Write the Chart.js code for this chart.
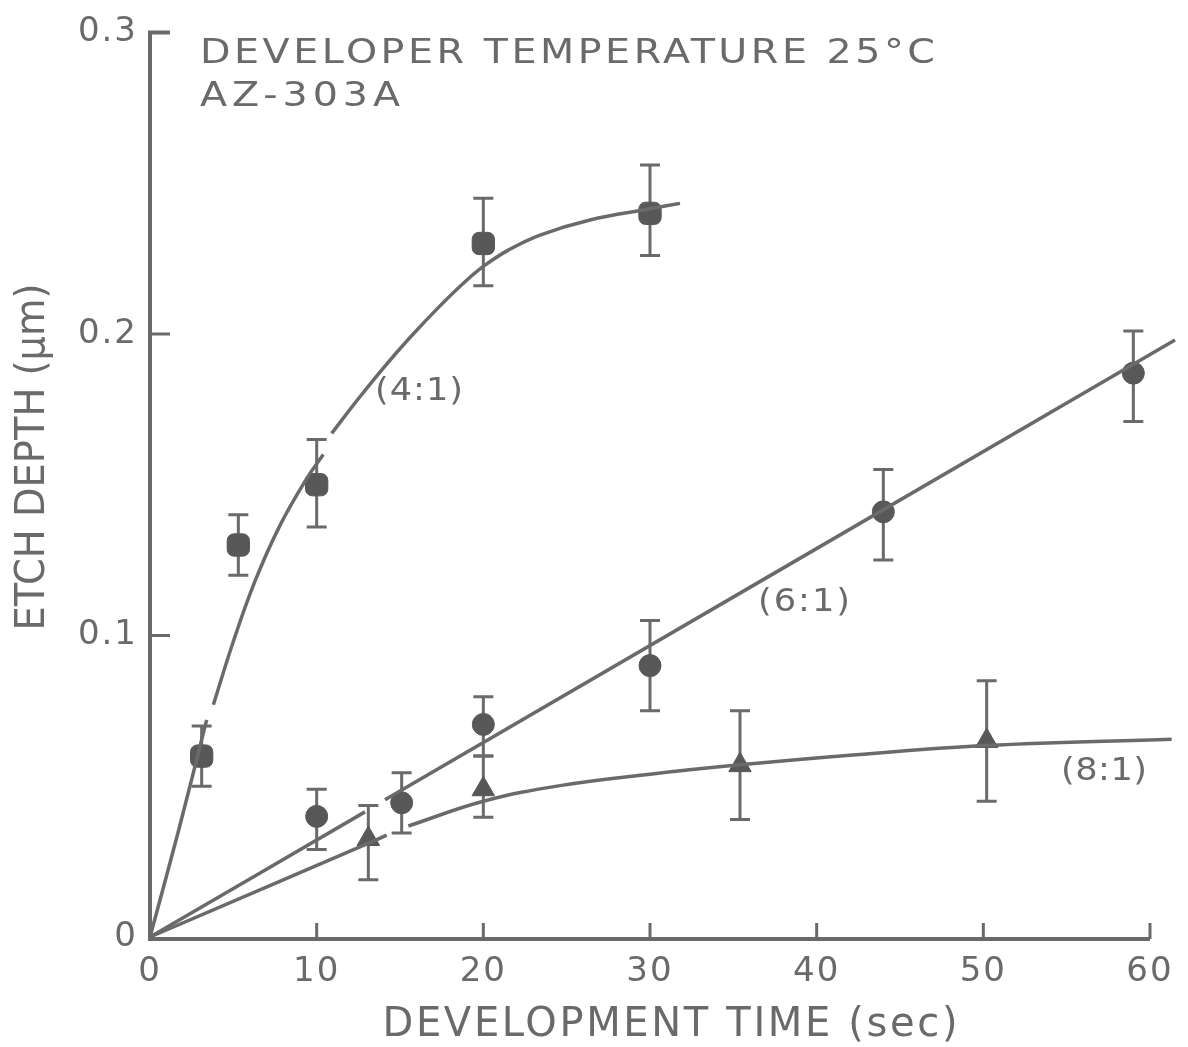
<!DOCTYPE html>
<html>
<head>
<meta charset="utf-8">
<script src="https://cdn.jsdelivr.net/npm/chart.js@4.4.1/dist/chart.umd.min.js"></script>
<style>
  html, body { margin: 0; padding: 0; background: #fff; }
  #wrap { width: 1188px; height: 1047px; }
</style>
</head>
<body>
<div id="wrap"><canvas id="etch" width="1188" height="1047"></canvas></div>
<script>
'use strict';

// ─── Axes ─────────────────────────────────────────────────────────────────────
const xTicks = [0, 10, 20, 30, 40, 50, 60];
const yTicks = [0, 0.1, 0.2, 0.3];
const yTickLabels = ['0', '0.1', '0.2', '0.3'];

// ─── Measured points: time (sec), depth (µm), error bar low / high ────────────
const t41  = [3.1, 5.3, 10, 20, 30];
const d41  = [0.060, 0.130, 0.150, 0.230, 0.240];
const lo41 = [0.050, 0.120, 0.136, 0.216, 0.226];
const hi41 = [0.070, 0.140, 0.165, 0.245, 0.256];

const t61  = [10, 15.1, 20, 30, 44, 59];
const d61  = [0.040, 0.0445, 0.0705, 0.090, 0.141, 0.187];
const lo61 = [0.029, 0.0345, 0.060, 0.075, 0.125, 0.171];
const hi61 = [0.049, 0.0545, 0.0797, 0.105, 0.155, 0.201];

const t81  = [13.1, 20, 35.4, 50.2];
const d81  = [0.0325, 0.049, 0.057, 0.065];
const lo81 = [0.019, 0.0397, 0.039, 0.045];
const hi81 = [0.0436, 0.060, 0.075, 0.085];

// ─── Fitted curves (null = pen lifted) ────────────────────────────────────────
const fitT41 = [0, 1.7, 3.4, 3.6, 3.8, 5, 6.3, 7.8, 9.4, 10.4, 10.6,
                10.9, 12.5, 14, 15.6, 17.4, 19, 20.1, 21.5, 23.4, 26.4, 30, 31.8];
const fitD41 = [0, 0.035, 0.072, null, 0.077, 0.098, 0.118, 0.1365, 0.152, 0.160, null,
                0.167, 0.1785, 0.1887, 0.1988, 0.2093, 0.2178, 0.2228, 0.2278, 0.2328, 0.2378, 0.2415, 0.2433];

const fitT61 = [0, 12.9, 13.5, 14.1, 61.5];
const fitD61 = [0, 0.0415, null, 0.0455, 0.198];

const fitT81 = [0, 13.4, 14.2, 14.8, 15.5, 20, 24.6, 30, 35.4, 42, 50.2, 61.3];
const fitD81 = [0, 0.0318, 0.0338, null, 0.0368, 0.0450, 0.0502, 0.0540, 0.0571, 0.0603, 0.0635, 0.0656];

const ink = '#6a6a6a';
const markInk = '#585858';
const font = '"DejaVu Sans", sans-serif';

const pts = (ts, ds) => ts.map((t, i) => ({ x: t, y: ds[i] }));

const errorSets = [
  { t: t41, lo: lo41, hi: hi41 },
  { t: t61, lo: lo61, hi: hi61 },
  { t: t81, lo: lo81, hi: hi81 },
];

function curve(ts, ds) {
  return {
    data: pts(ts, ds),
    showLine: true,
    borderColor: ink,
    borderWidth: 3.5,
    pointRadius: 0,
    tension: 0.4,
    spanGaps: false,
    clip: false,
  };
}

function marks(ts, ds, style, r) {
  return {
    data: pts(ts, ds),
    showLine: false,
    pointStyle: style,
    pointRadius: r,
    backgroundColor: markInk,
    borderColor: markInk,
    borderWidth: 1,
  };
}

// lettering: optional horizontal stretch, letter gaps fill the given width
function spacedText(ctx, text, x, y, size, width, opts = {}) {
  ctx.save();
  ctx.font = `${size}px ${font}`;
  ctx.fillStyle = ink;
  ctx.textBaseline = 'middle';
  ctx.textAlign = 'left';
  ctx.letterSpacing = '0px';
  const natural = ctx.measureText(text).width;
  let sx = opts.sx || 1, gap = 0;
  if (opts.squeeze) sx = width / natural;
  else gap = (width / sx - natural) / (text.length - 1);
  ctx.translate(x, y);
  if (opts.rotate) ctx.rotate(opts.rotate);
  ctx.scale(sx, 1);
  ctx.letterSpacing = gap + 'px';
  const left = opts.center ? -(width / sx) / 2 : 0;
  ctx.fillText(text, left, 0);
  ctx.restore();
}

// ─── Axis frame, error bars and lettering ─────────────────────────────────────
const decor = {
  id: 'decor',
  beforeDraw(chart) {
    // a little air between the tick numerals
    chart.ctx.letterSpacing = '2px';
  },
  beforeDatasetsDraw(chart) {
    const { ctx, scales: { x, y } } = chart;
    ctx.save();
    ctx.strokeStyle = ink;
    ctx.lineWidth = 3;
    errorSets.forEach(s => {
      s.t.forEach((tv, i) => {
        const px = x.getPixelForValue(tv);
        const top = y.getPixelForValue(s.hi[i]);
        const bot = y.getPixelForValue(s.lo[i]);
        ctx.beginPath();
        ctx.moveTo(px, top); ctx.lineTo(px, bot);
        ctx.moveTo(px - 10, top); ctx.lineTo(px + 10, top);
        ctx.moveTo(px - 10, bot); ctx.lineTo(px + 10, bot);
        ctx.stroke();
      });
    });
    ctx.restore();
  },
  afterDraw(chart) {
    const { ctx, scales: { x, y } } = chart;
    const { left, right, top, bottom } = chart.chartArea;
    ctx.save();
    ctx.strokeStyle = ink;
    ctx.lineWidth = 4;
    ctx.beginPath();
    ctx.moveTo(left + 20, top);
    ctx.lineTo(left, top);
    ctx.lineTo(left, bottom + 2);
    ctx.lineTo(right, bottom + 2);
    ctx.stroke();

    ctx.lineWidth = 3;
    ctx.beginPath();
    yTicks.slice(1, -1).forEach(v => {
      const py = y.getPixelForValue(v);
      ctx.moveTo(left, py); ctx.lineTo(left + 20, py);
    });
    xTicks.slice(1).forEach(v => {
      const px = x.getPixelForValue(v);
      ctx.moveTo(px, bottom + 2); ctx.lineTo(px, bottom - 14);
    });
    ctx.stroke();
    ctx.restore();

    spacedText(ctx, 'DEVELOPER TEMPERATURE 25°C', 200, 54, 33, 735, { sx: 1.2 });
    spacedText(ctx, 'AZ-303A', 200, 97, 33, 200, { sx: 1.2 });
    spacedText(ctx, '(4:1)', 419, 392, 32, 88, { center: true, sx: 1.1 });
    spacedText(ctx, '(6:1)', 804, 603, 32, 92, { center: true, sx: 1.1 });
    spacedText(ctx, '(8:1)', 1104, 772, 32, 86, { center: true, sx: 1.1 });
    spacedText(ctx, 'DEVELOPMENT TIME (sec)', 670, 1026, 40, 575, { center: true });
    spacedText(ctx, 'ETCH DEPTH (μm)', 34, 457, 40, 347, { center: true, squeeze: true, rotate: -Math.PI / 2 });
  }
};

new Chart(document.getElementById('etch'), {
  type: 'scatter',
  data: {
    datasets: [
      curve(fitT41, fitD41),
      curve(fitT61, fitD61),
      curve(fitT81, fitD81),
      marks(t41, d41, 'rectRounded', 13),
      marks(t61, d61, 'circle', 11),
      marks(t81, d81, 'triangle', 13),
    ]
  },
  options: {
    responsive: false,
    devicePixelRatio: 1,
    animation: false,
    layout: { padding: { top: 23, right: 38, left: 0, bottom: 0 } },
    plugins: { legend: { display: false }, tooltip: { enabled: false } },
    scales: {
      x: {
        type: 'linear', min: 0, max: 60,
        afterFit: s => { s.height = 110; },
        afterBuildTicks: s => { s.ticks = xTicks.map(v => ({ value: v })); },
        grid: { display: false, drawTicks: false },
        border: { display: false },
        ticks: { color: ink, padding: 15, font: { family: font, size: 34 } },
      },
      y: {
        type: 'linear', min: 0, max: 0.3,
        afterFit: s => { s.width = 150; },
        afterBuildTicks: s => { s.ticks = yTicks.map(v => ({ value: v })); },
        grid: { display: false, drawTicks: false },
        border: { display: false },
        ticks: {
          color: ink, padding: 12, font: { family: font, size: 34 },
          callback: (v, i) => yTickLabels[i],
        },
      },
    },
  },
  plugins: [decor],
});
</script>
</body>
</html>
